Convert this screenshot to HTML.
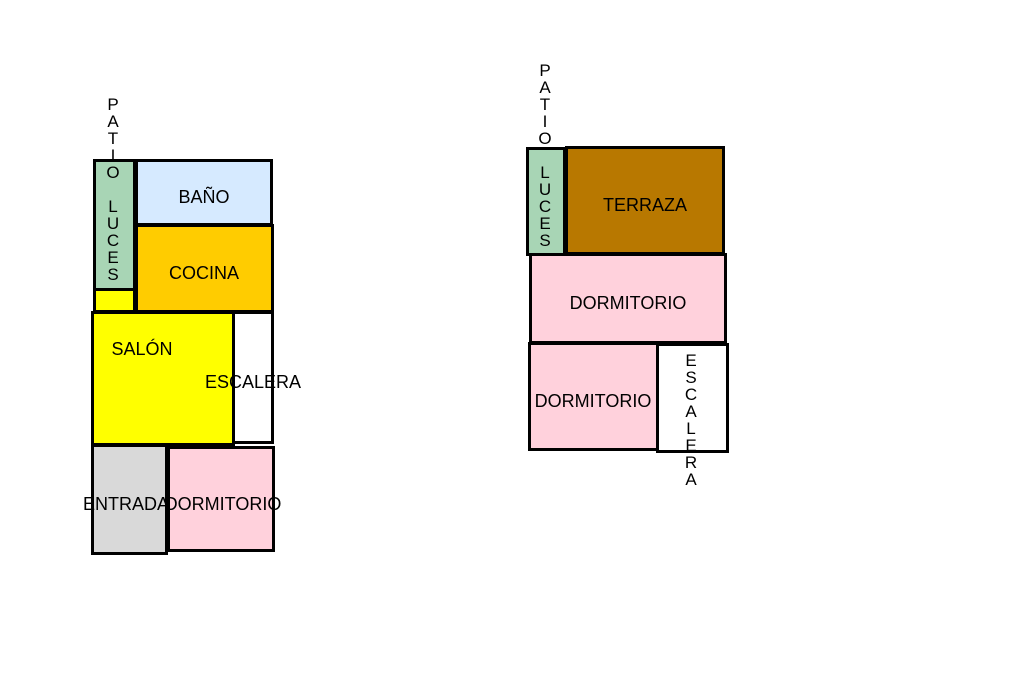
<!DOCTYPE html>
<html><head><meta charset="utf-8"><style>
body{margin:0;width:1024px;height:682px;background:#fff;position:relative;overflow:hidden;font-family:"Liberation Sans",sans-serif;font-size:18px;color:#000}
.r{position:absolute;box-sizing:border-box;border:3px solid #000}
.t{position:absolute;white-space:nowrap;transform:translate(-50%,-50%);line-height:1}
.v{position:absolute;width:20px;text-align:center;line-height:17px;font-size:17px;transform:translateX(-50%)}
</style></head><body>
<!-- left plan -->
<div class="r" style="left:93px;top:159px;width:43px;height:132px;background:#a8d5b5"></div>
<div class="r" style="left:135px;top:159px;width:138px;height:67px;background:#d6eaff"></div>
<div class="r" style="left:135px;top:224px;width:139px;height:89px;background:#ffcc00"></div>
<div class="r" style="left:93px;top:288px;width:43px;height:25px;background:#ffff00"></div>
<div class="r" style="left:232px;top:311px;width:42px;height:133px;background:#fff"></div>
<div class="r" style="left:91px;top:311px;width:144px;height:135px;background:#ffff00"></div>
<div class="r" style="left:91px;top:444px;width:77px;height:111px;background:#d9d9d9"></div>
<div class="r" style="left:167px;top:446px;width:108px;height:106px;background:#ffd1dc"></div>
<div class="v" style="left:113px;top:96px">P<br>A<br>T<br>I<br>O</div>
<div class="v" style="left:113px;top:198px">L<br>U<br>C<br>E<br>S</div>
<div class="t" style="left:204px;top:197px">BAÑO</div>
<div class="t" style="left:204px;top:273px">COCINA</div>
<div class="t" style="left:142px;top:349px">SALÓN</div>
<div class="t" style="left:253px;top:382px">ESCALERA</div>
<div class="t" style="left:126px;top:504px">ENTRADA</div>
<div class="t" style="left:223px;top:504px">DORMITORIO</div>
<!-- right plan -->
<div class="r" style="left:526px;top:147px;width:40px;height:109px;background:#a8d5b5"></div>
<div class="r" style="left:565px;top:146px;width:160px;height:109px;background:#b87800"></div>
<div class="r" style="left:529px;top:253px;width:198px;height:91px;background:#ffd1dc"></div>
<div class="r" style="left:528px;top:342px;width:131px;height:109px;background:#ffd1dc"></div>
<div class="r" style="left:656px;top:343px;width:73px;height:110px;background:#fff"></div>
<div class="v" style="left:545px;top:62px">P<br>A<br>T<br>I<br>O</div>
<div class="v" style="left:545px;top:164px">L<br>U<br>C<br>E<br>S</div>
<div class="v" style="left:691px;top:352px">E<br>S<br>C<br>A<br>L<br>E<br>R<br>A</div>
<div class="t" style="left:645px;top:205px">TERRAZA</div>
<div class="t" style="left:628px;top:303px">DORMITORIO</div>
<div class="t" style="left:593px;top:401px">DORMITORIO</div>
</body></html>
